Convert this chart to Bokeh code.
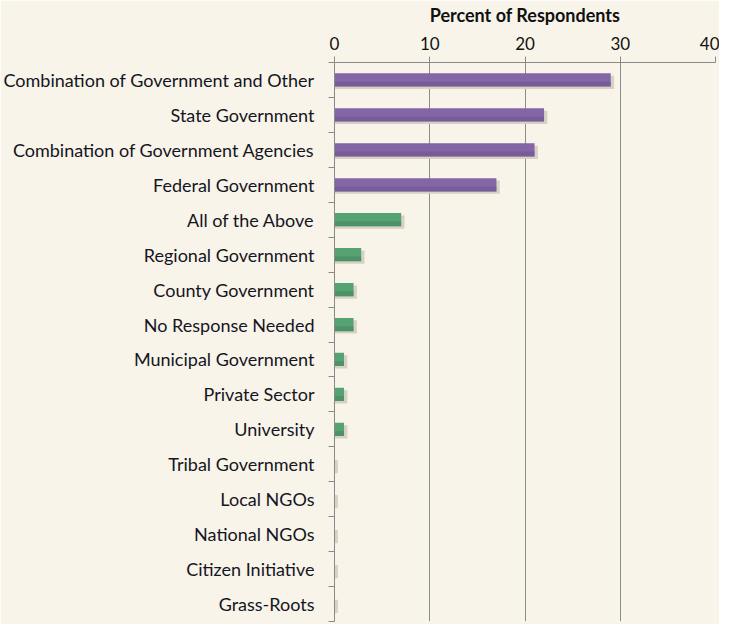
from bokeh.plotting import figure
from bokeh.models import FixedTicker, ColumnDataSource
from bokeh.embed import file_html
from bokeh.resources import INLINE

categories = ["Combination of Government and Other", "State Government",
              "Combination of Government Agencies", "Federal Government",
              "All of the Above", "Regional Government", "County Government",
              "No Response Needed", "Municipal Government", "Private Sector",
              "University", "Tribal Government", "Local NGOs", "National NGOs",
              "Citizen Initiative", "Grass-Roots"]
values = [29, 22, 21, 17, 7, 2.8, 2, 2, 1, 1, 1, 0, 0, 0, 0, 0]
groups = ["top"] * 4 + ["other"] * 12
x_ticks = [0, 10, 20, 30, 40]
axis_title = "Percent of Respondents"

palette = {"top": ("#8366a6", "#6f568f"), "other": ("#57a273", "#45875e")}
FONT = "Lato"
BG = "#f8f4e9"

n = len(categories)
ypos = list(range(n))
src = ColumnDataSource(dict(
    y=ypos,
    v=values,
    fill=[palette[g][0] for g in groups],
    dark=[palette[g][1] for g in groups],
))

p = figure(width=719, height=624, output_backend="svg", toolbar_location=None,
           x_range=(0, 40), y_range=(n - 0.5, -0.5), x_axis_location="above",
           min_border_left=300, min_border_right=4, min_border_top=61,
           min_border_bottom=3)
p.background_fill_color = BG
p.border_fill_color = BG
p.outline_line_color = None

# soft drop shadow, offset slightly right and down
sh = ColumnDataSource(dict(y=[yy + 0.07 for yy in ypos], r=[v + 0.35 for v in values]))
p.hbar(y="y", left=0.05, right="r", height=0.38, source=sh,
       fill_color="#d8d2c4", line_color=None)
# bars
p.hbar(y="y", left=0, right="v", height=0.38, source=src,
       fill_color="fill", line_color=None)
low = ColumnDataSource(dict(y=[yy + 0.12 for yy in ypos], v=values,
                            dark=src.data["dark"]))
p.hbar(y="y", left=0, right="v", height=0.14, source=low,
       fill_color="dark", line_color=None, fill_alpha=0.6)

# x axis (top)
xa = p.xaxis[0]
xa.ticker = FixedTicker(ticks=x_ticks)
xa.axis_label = axis_title
xa.axis_label_text_font = FONT
xa.axis_label_text_font_style = "bold"
xa.axis_label_text_font_size = "18px"
xa.axis_label_text_color = "#111111"
xa.axis_label_standoff = 8
xa.major_label_text_font = FONT
xa.major_label_text_font_size = "17px"
xa.major_label_text_color = "#111111"
xa.major_label_standoff = 7
xa.major_tick_out = 6
xa.major_tick_in = 0
xa.minor_tick_out = 0
xa.minor_tick_in = 0
xa.axis_line_color = "#8a8a8a"
xa.major_tick_line_color = "#8a8a8a"

# y axis (left)
ya = p.yaxis[0]
ya.ticker = FixedTicker(ticks=ypos, minor_ticks=[k + 0.5 for k in range(-1, n)])
ya.major_label_overrides = {i: c for i, c in enumerate(categories)}
ya.major_label_text_font = FONT
ya.major_label_text_font_size = "18px"
ya.major_label_text_color = "#15151f"
ya.major_label_standoff = 14
ya.major_tick_out = 0
ya.major_tick_in = 0
ya.minor_tick_out = 6
ya.minor_tick_in = 0
ya.minor_tick_line_color = "#8a8a8a"
ya.axis_line_color = "#8a8a8a"

p.xgrid.grid_line_color = "#8c8c8c"
p.xgrid.ticker = FixedTicker(ticks=x_ticks)
p.ygrid.grid_line_color = None

open("out.html", "w").write(file_html(p, INLINE))
